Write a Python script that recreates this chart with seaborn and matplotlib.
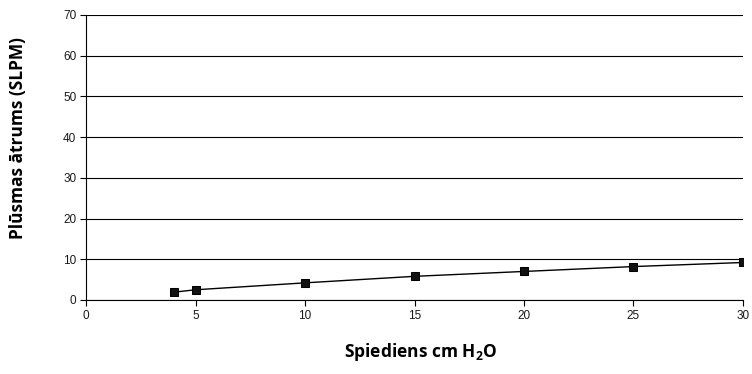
import matplotlib
matplotlib.use("Agg")
import matplotlib.pyplot as plt
import seaborn as sns
import pandas as pd

pressure = [4, 5, 10, 15, 20, 25, 30]
flow = [1.9, 2.5, 4.2, 5.8, 7.0, 8.2, 9.2]
x_ticks = [0, 5, 10, 15, 20, 25, 30]
y_ticks = [0, 10, 20, 30, 40, 50, 60, 70]

sns.set_theme(style="white")
plt.rcParams['font.family'] = ['Liberation Sans', 'DejaVu Sans']

df = pd.DataFrame({"p": pressure, "f": flow})
fig = plt.figure(figsize=(7.52, 3.74), dpi=100)
ax = fig.add_axes([0.1144, 0.198, 0.8736, 0.762])
sns.lineplot(data=df, x="p", y="f", ax=ax, color="black", linewidth=1.0,
             marker="s", markersize=6, markeredgecolor="black", markerfacecolor="#111111")
ax.set_xlim(0, 30)
ax.set_ylim(0, 70)
ax.set_xticks(x_ticks)
ax.set_yticks(y_ticks)
ax.yaxis.grid(True, color="black", linewidth=0.8)
ax.xaxis.grid(False)
for s in ["top", "right"]:
    ax.spines[s].set_visible(False)
for s in ["left", "bottom"]:
    ax.spines[s].set_color("black")
    ax.spines[s].set_linewidth(0.8)
ax.tick_params(axis="both", which="major", direction="out", length=4, width=0.8,
               color="black", labelsize=8.5, labelcolor="#1a1a1a", bottom=True, left=True, pad=3)
ax.set_xlabel(r"Spiediens cm H$_\mathregular{2}$O", fontfamily="Open Sans", fontweight="bold",
              fontsize=12.5, color="black")
ax.set_ylabel("Plūsmas ātrums (SLPM)", fontfamily="Open Sans", fontweight="bold",
              fontsize=12.5, color="black")
ax.xaxis.label.set_va("center")
ax.yaxis.label.set_va("center")
ax.xaxis.set_label_coords(0.51, -0.183)
ax.yaxis.set_label_coords(-0.1036, 0.57)
fig.savefig("out.png", dpi=100)
